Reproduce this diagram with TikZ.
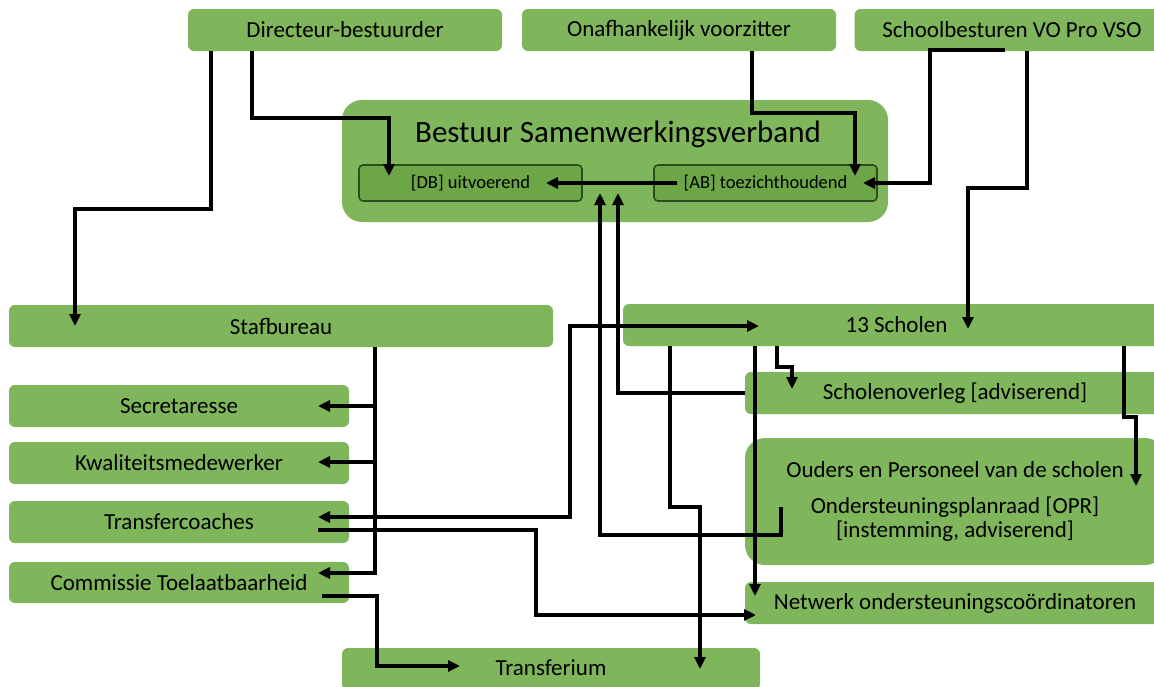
\documentclass[tikz,border=0pt]{standalone}
\usepackage{fontspec}
\setmainfont{Carlito}
\usetikzlibrary{arrows.meta}
\definecolor{gr}{HTML}{7FB55B}
\definecolor{grd}{HTML}{6CA646}
\definecolor{grb}{HTML}{2E4A22}
\begin{document}
\begin{tikzpicture}[x=1pt,y=-1pt,
  box/.style={fill=gr, rounded corners=6pt, inner sep=0pt, minimum height=42pt,
    font=\fontsize{23}{27}\selectfont},
  bigbox/.style={fill=gr, rounded corners=20pt, inner sep=0pt},
  inbox/.style={fill=grd, draw=grb, line width=1.6pt, rounded corners=4pt, inner sep=0pt,
    minimum width=223pt, minimum height=36pt, font=\fontsize{18.5}{22}\selectfont},
  txt/.style={inner sep=0pt, font=\fontsize{23}{27}\selectfont},
  line/.style={line width=3.4pt},
  conn/.style={line width=3.4pt, -{Triangle[length=12pt,width=11pt]}},
  conn2/.style={line width=3.4pt, {Triangle[length=12pt,width=11pt]}-{Triangle[length=12pt,width=11pt]}}]
\useasboundingbox (0,0) rectangle (1154,686);
\fill[white] (0,0) rectangle (1154,686);
% top row
\node[box, minimum width=314pt] (dir) at (345,30) {Directeur-bestuurder};
\node[box, minimum width=314pt] (onaf) at (679,30) {Onafhankelijk voorzitter};
\node[box, minimum width=315pt] (sch) at (1012,30) {Schoolbesturen VO Pro VSO};
% bestuur
\node[bigbox, minimum width=546pt, minimum height=122pt] (best) at (615,161) {};
\node[txt, font=\fontsize{31}{36}\selectfont] (title) at (618,134) {Bestuur Samenwerkingsverband};
\node[inbox] (db) at (470.5,183) {[DB] uitvoerend};
\node[inbox] (ab) at (765.5,183) {[AB] toezichthoudend};
% middle
\node[box, minimum width=544pt] (staf) at (281,326) {Stafbureau};
\node[box, minimum width=547pt] (scho) at (896.5,325) {13 Scholen};
\node[box, minimum width=340pt] (sec) at (179,406) {Secretaresse};
\node[box, minimum width=340pt] (kwal) at (179,463) {Kwaliteitsmedewerker};
\node[box, minimum width=340pt] (tc) at (179,522) {Transfercoaches};
\node[box, minimum width=340pt, minimum height=41pt] (ct) at (179,582.5) {Commissie Toelaatbaarheid};
\node[box, minimum width=420pt] (so) at (955,393) {Scholenoverleg [adviserend]};
\node[bigbox, minimum width=420pt, minimum height=127pt] (oud) at (955,501.5) {};
\node[txt] (oudt1) at (955,470) {Ouders en Personeel van de scholen};
\node[txt] (oudt2) at (955,507) {Ondersteuningsplanraad [OPR]};
\node[txt] (oudt3) at (955,531) {[instemming, adviserend]};
\node[box, minimum width=420pt] (nw) at (955,603) {Netwerk ondersteuningscoördinatoren};
\node[box, minimum width=418pt] (tf) at (551,669) {};
\node[txt] (tft) at (551,668) {Transferium};
% connectors
\draw[conn] (dir.south -| 211,0) |- (75,209) -- (staf.center -| 75,0);
\draw[conn] (dir.south -| 252,0) |- (389,118) -- (389,176);
\draw[conn] (onaf.south -| 752,0) |- (855,113) -- (855,176);
\draw[conn] (1005,50) -| (930,183) -- (ab.center -| 863,0);
\draw[conn] (sch.south -| 1027,0) |- (968,188) -- (968,329);
\draw[conn] (ab.center -| 677,0) -- (db.center -| 546,0);
\draw[conn] (so.west) -| (618,193);
\draw[conn] (781,507) |- (600,535) -- (600,193);
\draw[line] (staf.south -| 375,0) -- (375,574.7);
\draw[conn] (375,406) -- (sec.center -| 318,0);
\draw[conn] (375,462) -- (318,462);
\draw[conn] (376.7,573) -- (318,573);
\draw[conn2] (318,517) -| (570,326) -- (759,326);
\draw[conn] (318,530) -| (536,615) -- (756,615);
\draw[conn] (322,596) -| (377,666) -- (460,666);
\draw[conn] (scho.south -| 670,0) |- (700,507) -- (700,669);
\draw[conn] (scho.south -| 755,0) -- (755,596);
\draw[conn] (scho.south -| 777,0) |- (792,367) -- (792,389);
\draw[conn] (scho.south -| 1124,0) |- (1136,417) -- (1136,486);
\end{tikzpicture}
\end{document}
